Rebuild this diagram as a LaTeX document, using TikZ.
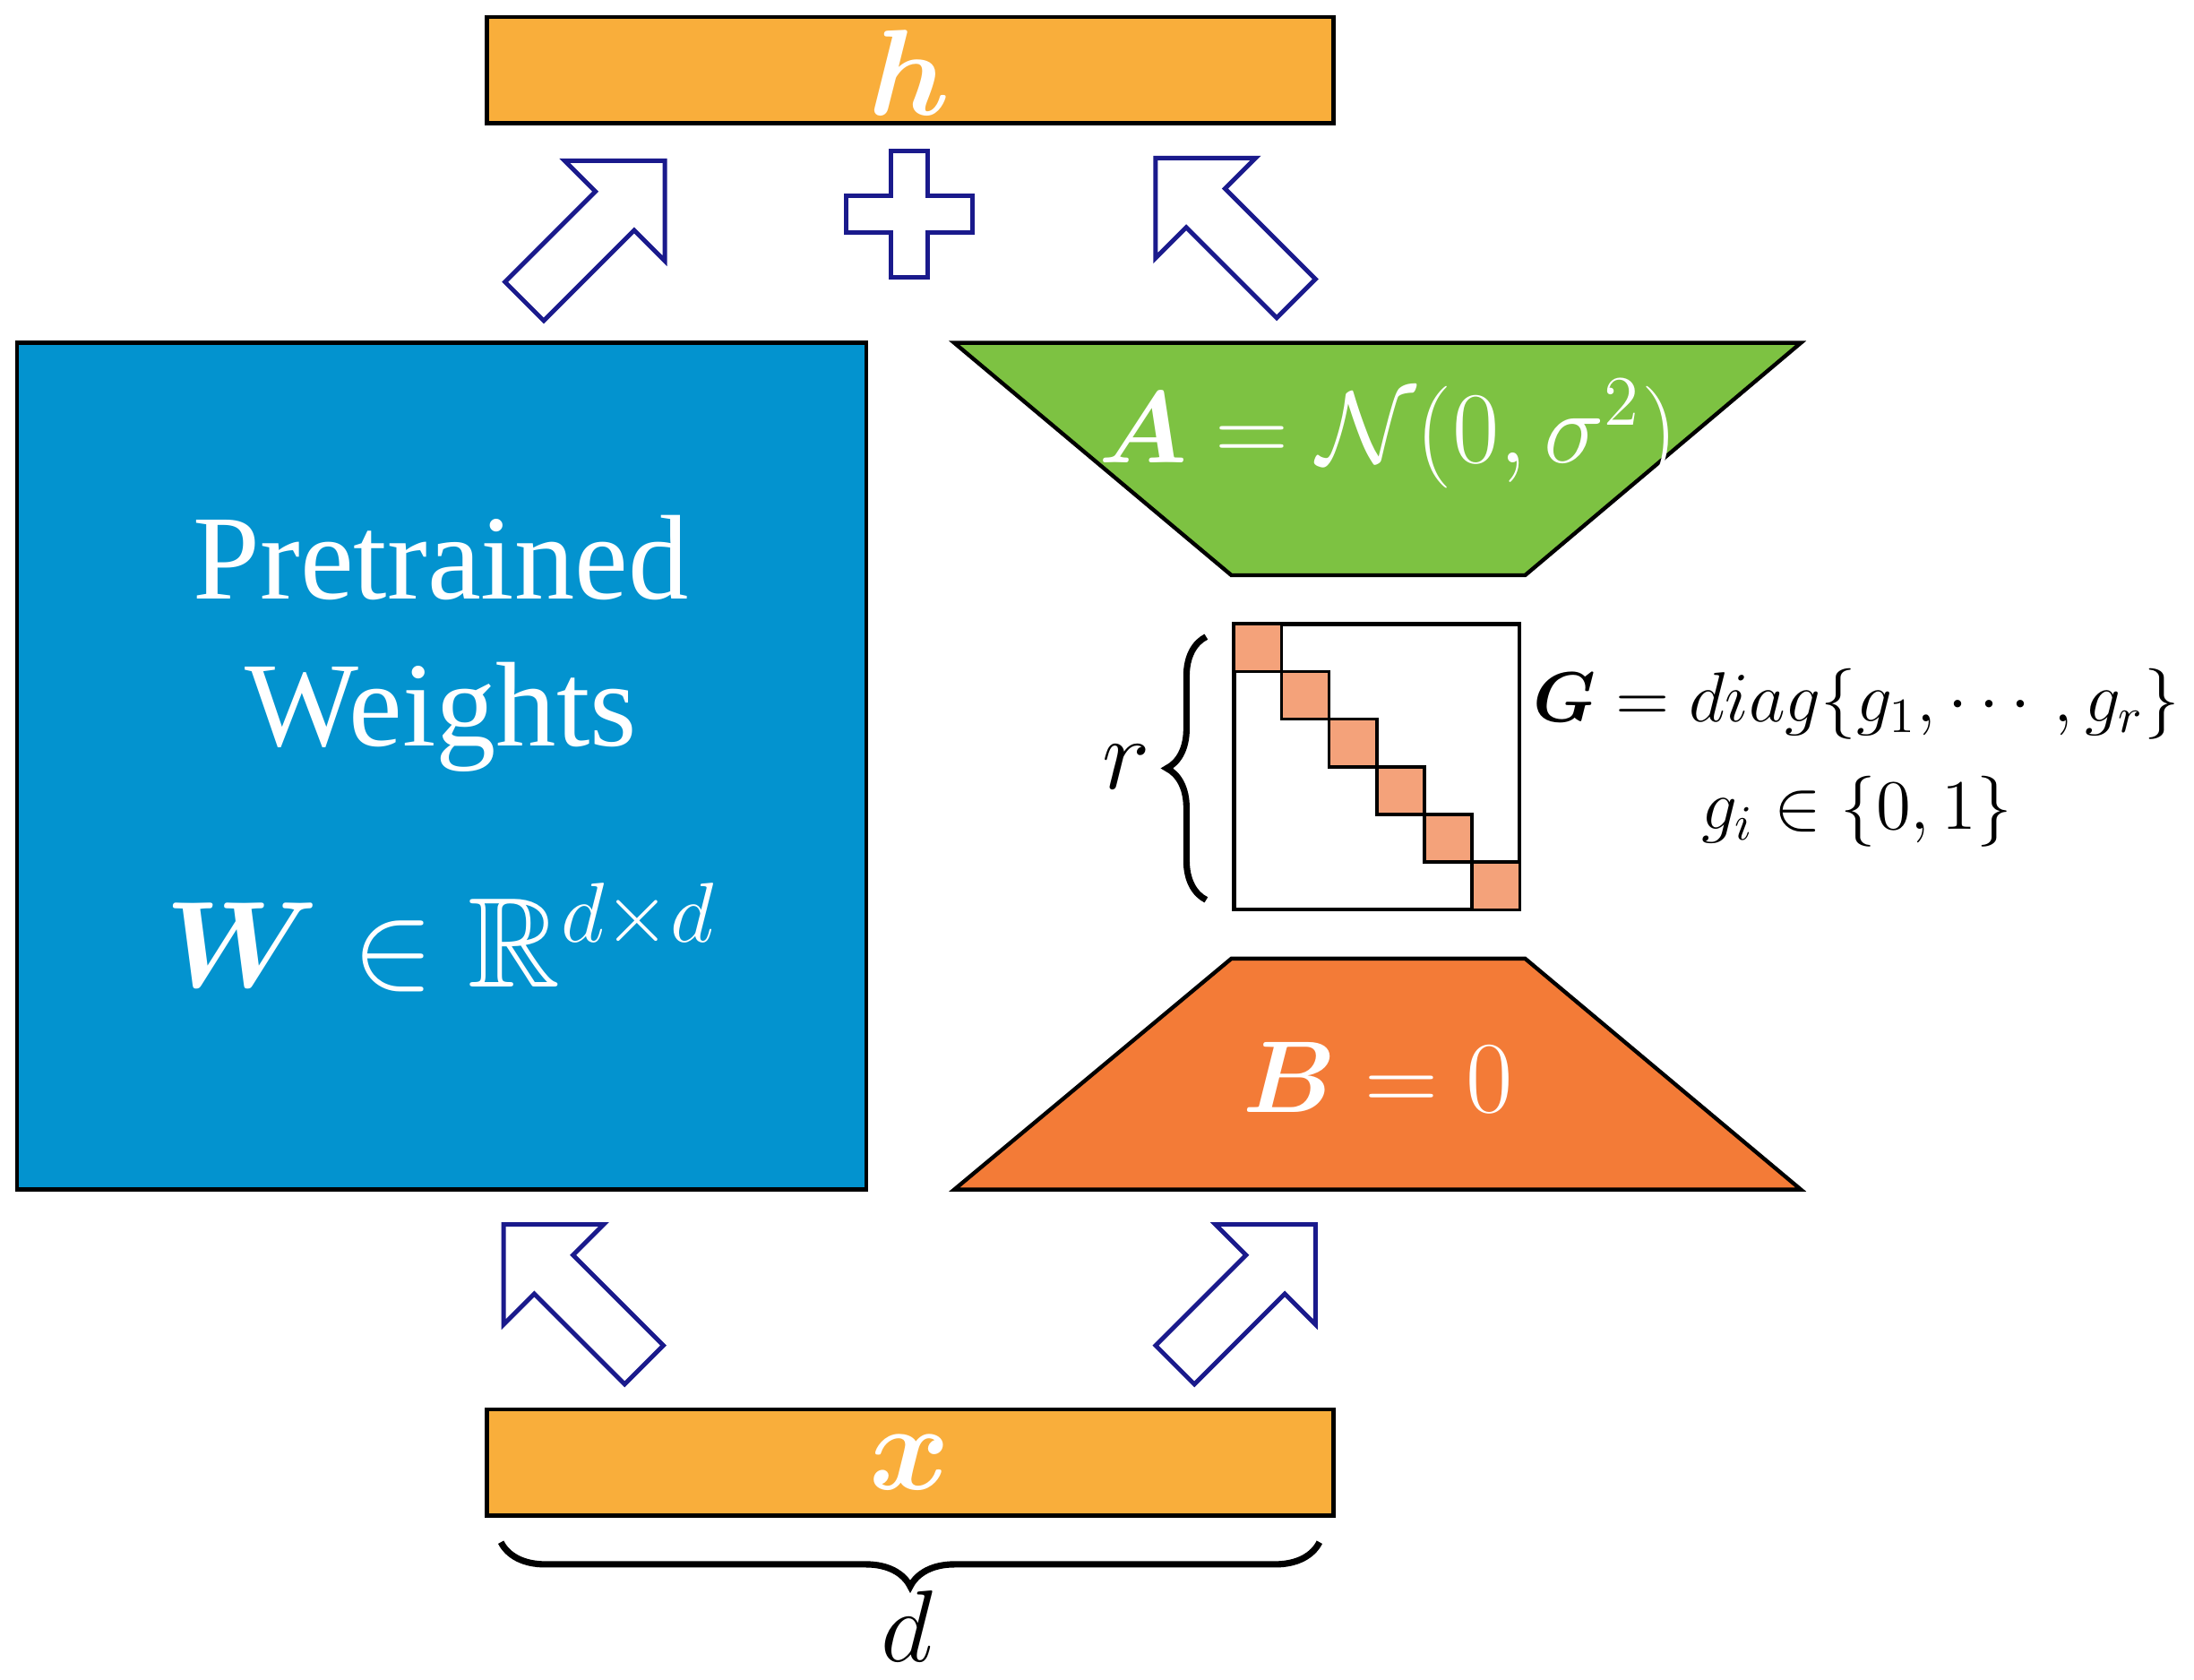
\documentclass[tikz,border=0pt]{standalone}
\usepackage{amsmath,amssymb,bm}
\usepackage{fontspec}
\newfontfamily\timesf{Liberation Serif}
\usetikzlibrary{shapes.arrows,decorations.pathreplacing}
\definecolor{barc}{HTML}{F9AE3B}
\definecolor{bluec}{HTML}{0393CF}
\definecolor{greenc}{HTML}{7DC242}
\definecolor{orangec}{HTML}{F37B37}
\definecolor{cellc}{HTML}{F4A27A}
\definecolor{arrc}{HTML}{1A1A8C}
\begin{document}
\begin{tikzpicture}[x=1cm,y=-1cm,
  bar/.style={draw=black,fill=barc,line width=0.8pt},
  blockarrow/.style={single arrow,draw=arrc,fill=white,line width=0.9pt,inner sep=0.18cm,minimum width=0.98cm,minimum height=1.42cm,single arrow head extend=0.31cm},
  cell/.style={draw=black,fill=cellc,line width=0.6pt},
  wtext/.style={text=white,font=\fontsize{26}{30}\selectfont}]
\useasboundingbox (0,0) rectangle (15.68,12.0);
\draw[bar] (3.48,0.12) rectangle (9.53,0.88);
\node[wtext] (h) at (6.5,0.52) {$\bm{h}$};
\draw[bar] (3.48,10.07) rectangle (9.53,10.83);
\node[wtext] (x) at (6.5,10.45) {$\bm{x}$};
\draw[draw=black,fill=bluec,line width=0.8pt] (0.12,2.45) rectangle (6.19,8.50);
\node[wtext,align=center,font=\fontsize{24.5}{30}\selectfont\timesf] (w) at (3.15,4.6) {Pretrained\\Weights};
\node[wtext] (wm) at (3.15,6.7) {$\bm{W}\in\mathbb{R}^{d\times d}$};
\draw[draw=black,fill=greenc,line width=0.8pt] (6.82,2.45) -- (12.87,2.45) -- (10.90,4.11) -- (8.80,4.11) -- cycle;
\node[wtext,font=\fontsize{21.5}{26}\selectfont] (a) at (9.92,3.1) {$\bm{A}=\mathcal{N}(0,\sigma^2)$};
\draw[draw=black,fill=orangec,line width=0.8pt] (8.80,6.85) -- (10.90,6.85) -- (12.87,8.50) -- (6.82,8.50) -- cycle;
\node[wtext,font=\fontsize{21.5}{26}\selectfont] (b) at (9.85,7.7) {$\bm{B}=0$};
\draw[line width=0.8pt] (8.82,4.46) rectangle (10.86,6.50);
\foreach \i in {0,...,5}{
  \draw[cell] ({8.82+0.34*\i},{4.46+0.34*\i}) rectangle ++(0.34,0.34);}
\draw[decorate,decoration={brace,amplitude=8pt},line width=1.3pt] (8.62,6.43) -- (8.62,4.55);
\node[font=\fontsize{22}{26}\selectfont] (r) at (8.05,5.48) {$r$};
\node[anchor=west,inner sep=0pt,font=\fontsize{14.5}{18}\selectfont] (g) at (10.95,5.03) {$\bm{G}=diag\{g_1,\cdots,g_r\}$};
\node[font=\fontsize{14.5}{18}\selectfont] (gi) at (13.27,5.8) {$g_i\in\{0,1\}$};
\draw[decorate,decoration={brace,amplitude=9pt,mirror},line width=1.3pt] (3.58,11.02) -- (9.43,11.02);
\node[font=\fontsize{22}{26}\selectfont] (d) at (6.48,11.62) {$d$};
\draw[draw=arrc,fill=white,line width=0.9pt] (6.37,1.08) -- (6.63,1.08) -- (6.63,1.40) -- (6.95,1.40) -- (6.95,1.66) -- (6.63,1.66) -- (6.63,1.98) -- (6.37,1.98) -- (6.37,1.66) -- (6.05,1.66) -- (6.05,1.40) -- (6.37,1.40) -- cycle;
\node[blockarrow,rotate=45] (a1) at (4.18,1.72) {};
\node[blockarrow,rotate=135] (a2) at (8.83,1.70) {};
\node[blockarrow,rotate=135] (a3) at (4.17,9.32) {};
\node[blockarrow,rotate=45] (a4) at (8.83,9.32) {};
\end{tikzpicture}
\end{document}
